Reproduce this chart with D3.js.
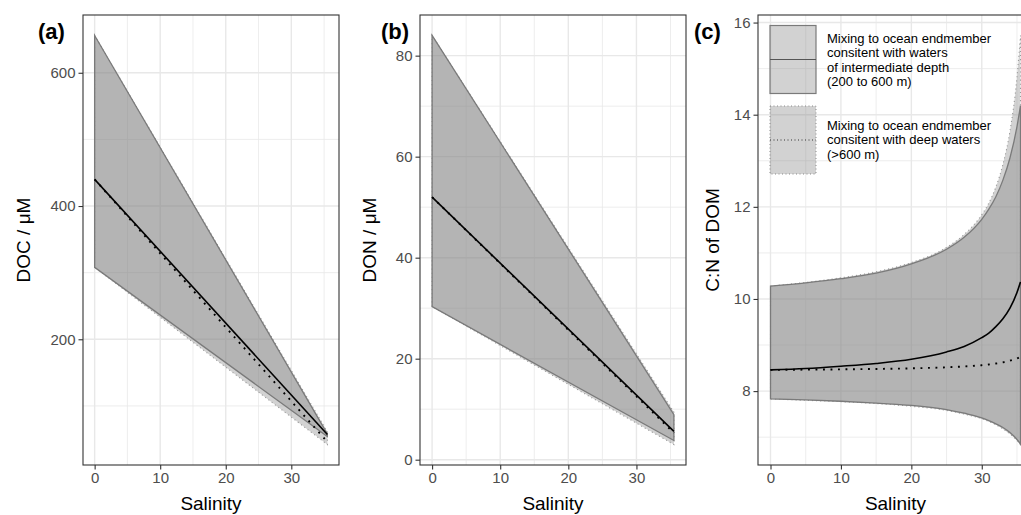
<!DOCTYPE html>
<html>
<head>
<meta charset="utf-8">
<script src="https://cdn.jsdelivr.net/npm/d3@7"></script>
<style>
  html, body { margin: 0; padding: 0; background: #fff; }
  svg { display: block; font-family: "Liberation Sans", Arial, Helvetica, sans-serif; }
</style>
</head>
<body>
<svg id="chart" width="1021" height="515"></svg>
<script>
// ---------------- data ----------------
// Panel (a) & (b): linear mixing lines, given at salinity end points
const salinityLinear = [0, 35.5];

const docIntUpper  = [656, 58];
const docIntLower  = [308, 54];
const docIntMid    = [440, 57];
const docDeepUpper = [656, 61];
const docDeepLower = [308, 42];
const docDeepMid   = [440, 46];

const donIntUpper  = [84, 8.9];
const donIntLower  = [30.3, 3.8];
const donIntMid    = [52, 5.6];
const donDeepUpper = [84, 9.4];
const donDeepLower = [30.3, 3.0];
const donDeepMid   = [52, 5.3];

// Panel (c): C:N curves, read at these salinities
const salinityCurve = [0, 5, 10, 15, 20, 25, 27.5, 30, 31, 32, 33, 34, 35, 35.5];
const cnIntUpper  = [10.28, 10.35, 10.44, 10.56, 10.76, 11.08, 11.34, 11.73, 11.95, 12.22, 12.58, 13.06, 13.74, 14.2];
const cnIntLower  = [7.83, 7.81, 7.78, 7.74, 7.69, 7.60, 7.52, 7.42, 7.36, 7.29, 7.21, 7.10, 6.95, 6.85];
const cnIntMid    = [8.46, 8.49, 8.54, 8.60, 8.69, 8.85, 8.97, 9.16, 9.26, 9.40, 9.57, 9.80, 10.14, 10.37];
const cnDeepUpper = [10.28, 10.36, 10.46, 10.59, 10.79, 11.12, 11.40, 11.83, 12.08, 12.43, 12.92, 13.64, 14.81, 15.72];
const cnDeepLower = [7.83, 7.80, 7.77, 7.73, 7.67, 7.58, 7.50, 7.40, 7.34, 7.27, 7.18, 7.07, 6.93, 6.84];
const cnDeepMid   = [8.46, 8.466, 8.472, 8.481, 8.494, 8.517, 8.535, 8.562, 8.578, 8.598, 8.625, 8.66, 8.71, 8.746];

// tick values
const xTicks = [0, 10, 20, 30];
const xMinor = [5, 15, 25, 35];
const docTicks = [200, 400, 600];
const docMinor = [100, 300, 500];
const donTicks = [0, 20, 40, 60, 80];
const donMinor = [10, 30, 50, 70];
const cnTicks = [8, 10, 12, 14, 16];
const cnMinor = [7, 9, 11, 13, 15];

const panelTags = ["(a)", "(b)", "(c)"];
const yTitles = ["DOC / \u03BCM", "DON / \u03BCM", "C:N of DOM"];
const xTitle = "Salinity";
const legendText1 = ["Mixing to ocean endmember", "consitent with waters", "of intermediate depth", "(200 to 600 m)"];
const legendText2 = ["Mixing to ocean endmember", "consitent with deep waters", "(>600  m)"];

// ---------------- layout ----------------
const svg = d3.select("#chart");
const topY = 15, bottomY = 465;
const FILL = "#7f7f7f", FILL_OP = 0.35;
const GRID = "#e8e8e8";

function expand(ext) {
  const r = ext[1] - ext[0];
  return [ext[0] - 0.05 * r, ext[1] + 0.05 * r];
}

function drawPanel(cfg) {
  const g = svg.append("g");
  const xDom = expand(d3.extent(cfg.s));
  const allY = [].concat(cfg.intU, cfg.intL, cfg.deepU, cfg.deepL, cfg.intM, cfg.deepM);
  const yDom = expand(d3.extent(allY));
  const x = d3.scaleLinear().domain(xDom).range([cfg.left, cfg.left + cfg.width]);
  const y = d3.scaleLinear().domain(yDom).range([bottomY, topY]);

  const clipId = "clip" + cfg.id;
  svg.append("clipPath").attr("id", clipId).append("rect")
    .attr("x", cfg.left).attr("y", topY).attr("width", cfg.width).attr("height", bottomY - topY);

  // grid
  const grid = g.append("g").attr("clip-path", `url(#${clipId})`);
  grid.selectAll(".vmin").data(xMinor).join("line")
    .attr("x1", d => x(d)).attr("x2", d => x(d)).attr("y1", topY).attr("y2", bottomY)
    .attr("stroke", GRID).attr("stroke-width", 0.8);
  grid.selectAll(".hmin").data(cfg.minor).join("line")
    .attr("y1", d => y(d)).attr("y2", d => y(d)).attr("x1", cfg.left).attr("x2", cfg.left + cfg.width)
    .attr("stroke", GRID).attr("stroke-width", 0.8);
  grid.selectAll(".vmaj").data(xTicks).join("line")
    .attr("x1", d => x(d)).attr("x2", d => x(d)).attr("y1", topY).attr("y2", bottomY)
    .attr("stroke", GRID).attr("stroke-width", 1.4);
  grid.selectAll(".hmaj").data(cfg.ticks).join("line")
    .attr("y1", d => y(d)).attr("y2", d => y(d)).attr("x1", cfg.left).attr("x2", cfg.left + cfg.width)
    .attr("stroke", GRID).attr("stroke-width", 1.4);

  const plot = g.append("g").attr("clip-path", `url(#${clipId})`);
  const curve = cfg.curve || d3.curveLinear;
  const rows = (up, lo) => cfg.s.map((s, i) => ({ s, u: up[i], l: lo[i] }));
  const area = d3.area().x(d => x(d.s)).y0(d => y(d.l)).y1(d => y(d.u)).curve(curve);
  const outline = (up, lo) => {
    const pts = cfg.s.map((s, i) => [s, up[i]]);
    const ptsL = cfg.s.map((s, i) => [s, lo[i]]).reverse();
    const lu = d3.line().x(d => x(d[0])).y(d => y(d[1])).curve(curve)(pts);
    const ll = d3.line().x(d => x(d[0])).y(d => y(d[1])).curve(curve)(ptsL);
    return lu + "L" + ll.slice(1) + "Z";
  };
  const line = d3.line().x(d => x(d[0])).y(d => y(d[1])).curve(curve);

  // deep ribbon
  plot.append("path").attr("d", area(rows(cfg.deepU, cfg.deepL)))
    .attr("fill", FILL).attr("fill-opacity", FILL_OP);
  // intermediate ribbon
  plot.append("path").attr("d", area(rows(cfg.intU, cfg.intL)))
    .attr("fill", FILL).attr("fill-opacity", FILL_OP);
  plot.append("path").attr("d", outline(cfg.deepU, cfg.deepL))
    .attr("fill", "none").attr("stroke", "#9a9a9a").attr("stroke-width", 1.1)
    .attr("stroke-dasharray", "1.1,3");
  plot.append("path").attr("d", outline(cfg.intU, cfg.intL))
    .attr("fill", "none").attr("stroke", "#7a7a7a").attr("stroke-width", 1.3);
  // centre lines
  plot.append("path").attr("d", line(cfg.s.map((s, i) => [s, cfg.deepM[i]])))
    .attr("fill", "none").attr("stroke", "#000").attr("stroke-width", 1.9)
    .attr("stroke-dasharray", "1.9,5.6");
  plot.append("path").attr("d", line(cfg.s.map((s, i) => [s, cfg.intM[i]])))
    .attr("fill", "none").attr("stroke", "#000").attr("stroke-width", 1.6);

  // border
  g.append("rect").attr("x", cfg.left).attr("y", topY).attr("width", cfg.width).attr("height", bottomY - topY)
    .attr("fill", "none").attr("stroke", "#333").attr("stroke-width", 1.1);

  // axes
  const xAxis = d3.axisBottom(x).tickValues(xTicks).tickSize(4.5).tickPadding(3).tickFormat(d3.format("d"));
  const ax = g.append("g").attr("transform", `translate(0,${bottomY})`).call(xAxis);
  const yAxis = d3.axisLeft(y).tickValues(cfg.ticks).tickSize(4.5).tickPadding(3).tickFormat(d3.format("d"));
  const ay = g.append("g").attr("transform", `translate(${cfg.left},0)`).call(yAxis);
  [ax, ay].forEach(a => {
    a.select(".domain").remove();
    a.selectAll(".tick line").attr("stroke", "#333").attr("stroke-width", 1.1);
    a.selectAll(".tick text").attr("fill", "#4d4d4d").style("font-size", "15px")
      .style("font-family", "'Liberation Sans', Arial, sans-serif");
  });

  // titles
  g.append("text").attr("x", cfg.left + cfg.width / 2)
    .attr("y", 510).attr("text-anchor", "middle").style("font-size", "19px").attr("fill", "#000")
    .text(xTitle);
  g.append("text").attr("transform", `translate(${cfg.ytx},${(topY + bottomY) / 2}) rotate(-90)`)
    .attr("text-anchor", "middle").attr("dy", "0.35em").style("font-size", "19px").text(cfg.ytitle);
  g.append("text").attr("x", cfg.tagx).attr("y", 39).style("font-size", "22px").style("font-weight", "bold")
    .text(cfg.tag);
  return { x, y, g };
}

drawPanel({ id: "a", left: 83, width: 256, s: salinityLinear,
  intU: docIntUpper, intL: docIntLower, intM: docIntMid,
  deepU: docDeepUpper, deepL: docDeepLower, deepM: docDeepMid,
  ticks: docTicks, minor: docMinor, ytitle: yTitles[0], ytx: 23, tag: panelTags[0], tagx: 38 });

drawPanel({ id: "b", left: 420, width: 266, s: salinityLinear,
  intU: donIntUpper, intL: donIntLower, intM: donIntMid,
  deepU: donDeepUpper, deepL: donDeepLower, deepM: donDeepMid,
  ticks: donTicks, minor: donMinor, ytitle: yTitles[1], ytx: 369, tag: panelTags[1], tagx: 381 });

drawPanel({ id: "c", left: 758, width: 275, s: salinityCurve, curve: d3.curveMonotoneX,
  intU: cnIntUpper, intL: cnIntLower, intM: cnIntMid,
  deepU: cnDeepUpper, deepL: cnDeepLower, deepM: cnDeepMid,
  ticks: cnTicks, minor: cnMinor, ytitle: yTitles[2], ytx: 712, tag: panelTags[2], tagx: 694 });

// ---------------- legend (panel c) ----------------
const lg = svg.append("g");
function legendKey(y0, dotted) {
  const kx = 770, kw = 46, kh = 68;
  lg.append("rect").attr("x", kx).attr("y", y0).attr("width", kw).attr("height", kh)
    .attr("fill", FILL).attr("fill-opacity", FILL_OP).attr("stroke", "none");
  lg.append("rect").attr("x", kx).attr("y", y0).attr("width", kw).attr("height", kh)
    .attr("fill", "none").attr("stroke", dotted ? "#8a8a8a" : "#7a7a7a").attr("stroke-width", dotted ? 1 : 1.2)
    .attr("stroke-dasharray", dotted ? "1,2.5" : null);
  lg.append("line").attr("x1", kx).attr("x2", kx + kw).attr("y1", y0 + kh / 2).attr("y2", y0 + kh / 2)
    .attr("stroke", dotted ? "#333" : "#555").attr("stroke-width", dotted ? 1 : 1.2)
    .attr("stroke-dasharray", dotted ? "1,2.5" : null);
}
legendKey(25.5, false);
legendKey(106, true);
lg.selectAll(".t1").data(legendText1).join("text")
  .attr("x", 827).attr("y", (d, i) => 43 + i * 14.3).style("font-size", "13px").text(d => d);
lg.selectAll(".t2").data(legendText2).join("text")
  .attr("x", 827).attr("y", (d, i) => 130 + i * 14.3).style("font-size", "13px").text(d => d);
</script>
</body>
</html>
